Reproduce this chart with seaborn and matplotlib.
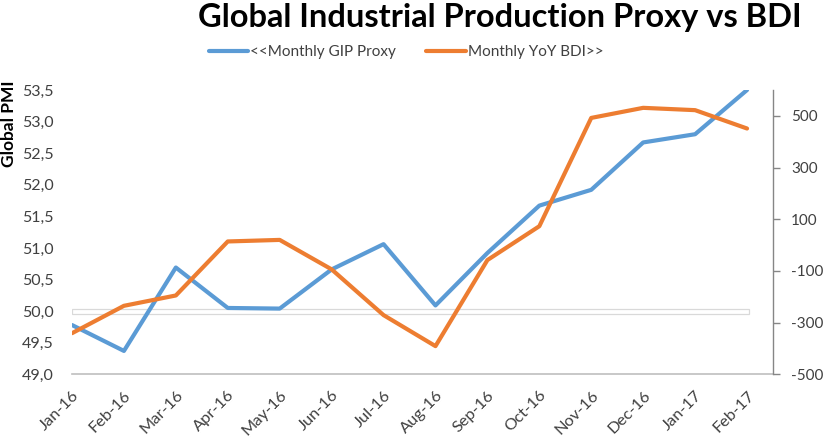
import numpy as np
import pandas as pd
import matplotlib
matplotlib.use("Agg")
import matplotlib.pyplot as plt
import seaborn as sns
from matplotlib.patches import Rectangle
from matplotlib.lines import Line2D

months = ["Jan-16", "Feb-16", "Mar-16", "Apr-16", "May-16", "Jun-16", "Jul-16",
          "Aug-16", "Sep-16", "Oct-16", "Nov-16", "Dec-16", "Jan-17", "Feb-17"]
gip_proxy = [49.78, 49.37, 50.69, 50.05, 50.04, 50.66, 51.06,
             50.09, 50.92, 51.67, 51.92, 52.67, 52.80, 53.50]
yoy_bdi = [-341, -235, -195, 14, 20, -94, -271,
           -391, -58, 73, 492, 531, 522, 451]
left_ticks = [49.0, 49.5, 50.0, 50.5, 51.0, 51.5, 52.0, 52.5, 53.0, 53.5]
right_ticks = [-500, -300, -100, 100, 300, 500]

sns.set_theme(style="white")
plt.rcParams['font.family'] = ['Lato', 'DejaVu Sans']

blue = "#5B9BD5"
orange = "#ED7D31"
txt = "#404040"

df = pd.DataFrame({"pos": np.arange(len(months)), "month": months,
                   "gip": gip_proxy, "bdi": yoy_bdi})

fig = plt.figure(figsize=(8.23, 4.37), dpi=100)
ax = fig.add_axes([72/823, 1-374.3/437, (773-72)/823, (374.3-90)/437])
ax2 = ax.twinx()

# odd white band at 50.0
ax.add_patch(Rectangle((0, 49.955), 13.04, 0.08, facecolor="white",
                       edgecolor="#d9d9d9", lw=0.9, zorder=1))

sns.lineplot(data=df, x="pos", y="gip", ax=ax, color=blue, lw=3, zorder=3)
sns.lineplot(data=df, x="pos", y="bdi", ax=ax2, color=orange, lw=3, zorder=3)

ax.set_xlim(0, 13.5)
ax.set_ylim(49.0, 53.5)
ax2.set_ylim(-500, 600)

ax.set_yticks(left_ticks)
ax.set_yticklabels([f"{v:.1f}".replace(".", ",") for v in left_ticks],
                   fontsize=11.5, color=txt)
ax2.set_yticks(right_ticks)
ax2.set_yticklabels([str(v) for v in right_ticks], fontsize=11, color=txt)

ax.set_xticks(df["pos"])
ax.set_xticklabels(months, rotation=45, ha="right", rotation_mode="anchor",
                   fontsize=11.8, color=txt)
ax.tick_params(axis="x", length=0, pad=10)
ax.tick_params(axis="y", length=0, pad=13)
ax2.tick_params(axis="y", length=5, width=1, color="#868686", direction="out", pad=8, right=True)

ax.set_xlabel("")
ax.set_ylabel("")
ax2.set_ylabel("")
for s in ["top", "left", "right"]:
    ax.spines[s].set_visible(False)
for s in ["top", "left", "bottom"]:
    ax2.spines[s].set_visible(False)
ax.spines["bottom"].set_color("#bfbfbf")
ax.spines["bottom"].set_linewidth(1.2)
ax2.spines["right"].set_color("#868686")
ax2.spines["right"].set_linewidth(1)
ax.grid(False)
ax2.grid(False)

fig.text(500/823, 1-17/437, "Global Industrial Production Proxy vs BDI",
         ha="center", va="center", fontsize=23.5, fontweight="bold", color="black")
fig.text(9/823, 1-124/437, "Global PMI", rotation=90, ha="center", va="center",
         fontsize=12.5, fontweight="bold", color="black")

handles = [Line2D([], [], color=blue, lw=3), Line2D([], [], color=orange, lw=3)]
fig.legend(handles, ["<<Monthly GIP Proxy", "Monthly YoY BDI>>"],
           loc="center", bbox_to_anchor=(406/823, 1-52/437), ncol=2, frameon=False,
           fontsize=11, handlelength=2.6, handletextpad=0.1, columnspacing=2.0,
           labelcolor=txt)

fig.savefig("out.png", dpi=100)
